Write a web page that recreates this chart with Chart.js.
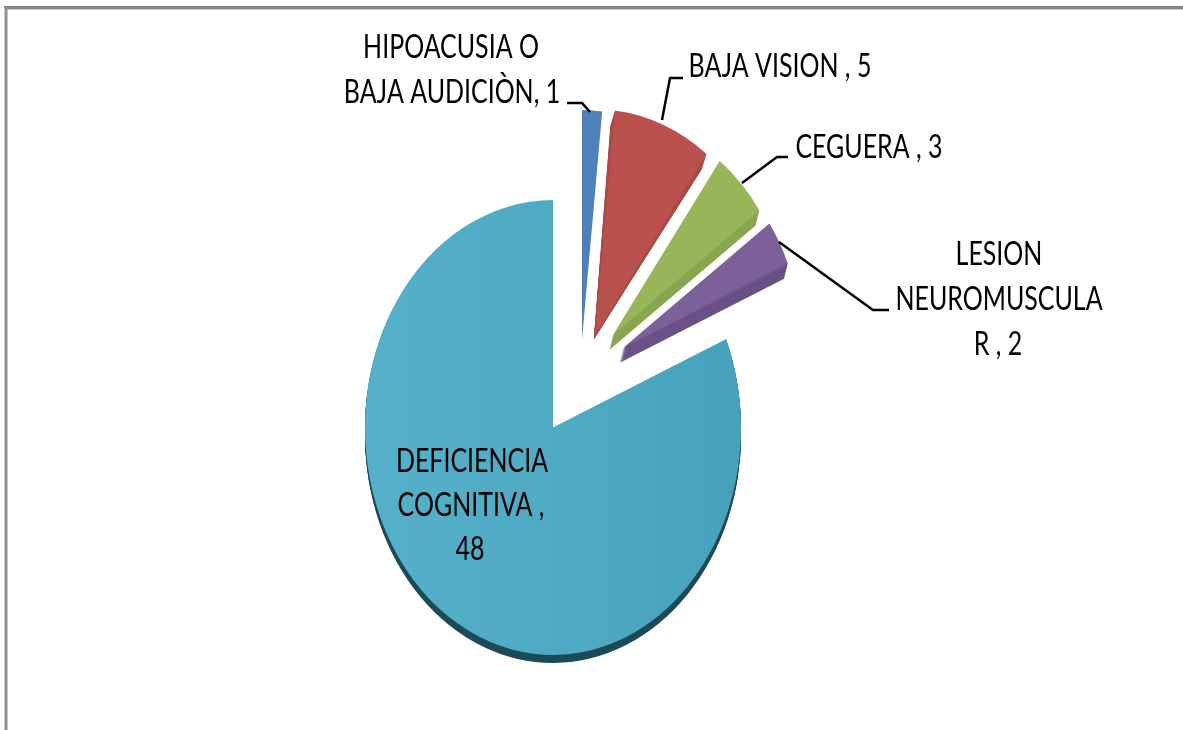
<!DOCTYPE html>
<html><head><meta charset="utf-8">
<style>html,body{margin:0;padding:0;background:#fff;overflow:hidden}canvas{display:block}</style>
<script src="https://cdn.jsdelivr.net/npm/chart.js@4"></script>
</head><body>
<div style="width:1183px;height:730px"><canvas id="c" width="1183" height="730"></canvas></div>
<script>
const categories = ['HIPOACUSIA O BAJA AUDICIÒN', 'BAJA VISION', 'CEGUERA', 'LESION NEUROMUSCULAR', 'DEFICIENCIA COGNITIVA'];
const values = [1, 5, 3, 2, 48];
const labelLines = [
  ['HIPOACUSIA O', 'BAJA AUDICIÒN, 1'],
  ['BAJA VISION , 5'],
  ['CEGUERA , 3'],
  ['LESION', 'NEUROMUSCULA', 'R , 2'],
  ['DEFICIENCIA', 'COGNITIVA ,', '48']
];
// layout and style, kept apart from the data
const colors = ['#4F80B9', '#B9514E', '#98B55A', '#7C6099', '#4DA9C3'];
const sideColors = ['#3f6a9c', '#A84A47', '#88A650', '#6A5185', '#1d4a58'];
const depth = [0, 15, 15, 15, 8];
const depthSlant = [0, -0.3, -0.25, -0.25, 0];
const taperTip = [0, 4, 15, 15, 8];   // how far the tip of the side wall drops
const sliceShift = [[29, -72.3], [42, -76], [60, -76.5], [70, -65.8], [0, 0]];
const sliceRadius = [190, 187, 179, 179, 188];
const yStretch = 1.21;
const textScaleX = 0.78;
const labelPos = [
  [[451, 58], [452, 103]],
  [[780, 77]],
  [[869, 158]],
  [[999, 265], [999, 310], [998, 355]],
  [[472, 472], [471, 516], [470, 560]]
];
const leaders = [
  [[567, 103], [582, 103], [590, 112]],
  [[683, 78], [670, 78], [662, 120]],
  [[788, 157], [777, 157], [742, 183]],
  [[889, 310], [873, 310], [779, 242]]
];
const ctx0 = document.getElementById('c').getContext('2d');
const bigFill = ctx0.createLinearGradient(365, 0, 741, 0);
bigFill.addColorStop(0, '#56B0CA');
bigFill.addColorStop(0.55, '#4EA9C3');
bigFill.addColorStop(1, '#47A1BA');

const piePlugin = {
  id: 'piePlugin',
  afterDatasetsUpdate(chart) {
    chart.getDatasetMeta(0).data.forEach((a, i) => {
      a.x += sliceShift[i][0];
      a.y += sliceShift[i][1];
      a.outerRadius = sliceRadius[i];
    });
  },
  beforeDatasetsDraw(chart) {
    const c = chart.ctx;
    c.save();
    c.setTransform(1, 0, 0, 1, 0, 0);
    // picture frame
    c.fillStyle = '#858585'; c.fillRect(4, 6, 1179, 3);
    c.fillStyle = '#cfcfcf'; c.fillRect(7, 9, 1176, 1);
    c.fillStyle = '#8f8f8f'; c.fillRect(5, 6, 2, 724);
    c.fillStyle = '#c4c4c4'; c.fillRect(4, 8, 1, 722); c.fillRect(7, 10, 1, 720);
    c.restore();
    c.save();
    c.scale(1, yStretch);
    chart.getDatasetMeta(0).data.forEach((a, i) => {
      c.fillStyle = sideColors[i];
      for (let d = 1; d <= depth[i]; d++) {
        c.beginPath();
        const x = a.x + d * depthSlant[i];
        const y = a.y + d / yStretch;
        const tipDrop = taperTip[i] * d / depth[i];
        c.moveTo(a.x + tipDrop * depthSlant[i], a.y + tipDrop / yStretch);
        c.arc(x, y, a.outerRadius, a.startAngle, a.endAngle);
        c.closePath();
        c.fill();
      }
    });
  },
  afterDatasetsDraw(chart) {
    const c = chart.ctx;
    c.restore();
    c.save();
    c.strokeStyle = '#000';
    c.lineWidth = 2.5;
    leaders.forEach(l => {
      c.beginPath();
      l.forEach((p, i) => i ? c.lineTo(p[0], p[1]) : c.moveTo(p[0], p[1]));
      c.stroke();
    });
    c.fillStyle = '#000';
    c.textAlign = 'center';
    c.textBaseline = 'alphabetic';
    c.font = '32px Lato, "Liberation Sans", sans-serif';
    labelLines.forEach((lines, i) => lines.forEach((t, j) => {
      c.save();
      c.translate(labelPos[i][j][0], labelPos[i][j][1]);
      c.scale(textScaleX, 1);
      c.fillText(t, 0, 0);
      c.restore();
    }));
    c.restore();
  }
};

new Chart(ctx0, {
  type: 'pie',
  data: {
    labels: categories,
    datasets: [{
      data: values,
      backgroundColor: [colors[0], colors[1], colors[2], colors[3], bigFill],
      borderWidth: 0,
      clip: false
    }]
  },
  options: {
    responsive: false,
    animation: false,
    layout: { padding: { left: 365, right: 442, top: 165.3, bottom: 188.7 } },
    plugins: { legend: { display: false }, tooltip: { enabled: false }, title: { display: false } }
  },
  plugins: [piePlugin]
});
</script>
</body></html>
